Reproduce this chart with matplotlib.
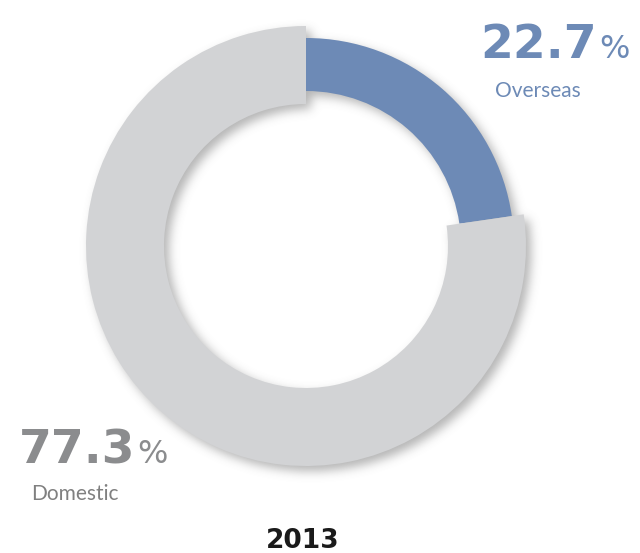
import numpy as np
import matplotlib
matplotlib.use("Agg")
import matplotlib.pyplot as plt

# Revenue split for 2013
labels = ["Overseas", "Domestic"]
shares = [22.7, 77.3]
year = "2013"

BLUE = "#6d8ab6"
GREY = "#d2d3d5"
W, H = 640, 553

fig = plt.figure(figsize=(W / 100, H / 100), dpi=100)
ax = fig.add_axes([0, 0, 1, 1])

cx, cy = 306, H - 246
# Overseas ring is slimmer than the domestic one
radii = {"Overseas": (208, 53), "Domestic": (220, 78)}
colors = {"Overseas": BLUE, "Domestic": GREY}

wedges = []
for i, lab in enumerate(labels):
    r, w = radii[lab]
    fc = [colors[l] if l == lab else "none" for l in labels]
    ws, _ = ax.pie(shares, startangle=90, counterclock=False, radius=r,
                   center=(cx, cy), colors=fc,
                   wedgeprops=dict(width=w, linewidth=0, zorder=3))
    wedges.append(ws[i])

# soft drop shadow from the ring shapes
yy, xx = np.mgrid[0:H, 0:W]
px = xx + 0.5
py = H - (yy + 0.5)
off = 5
dx = px - off - cx
dy = py + off - cy
rr = np.hypot(dx, dy)
ang = np.degrees(np.arctan2(dy, dx))
mask = np.zeros((H, W))
for wd in wedges:
    t1, t2 = wd.theta1, wd.theta2
    span = (t2 - t1) % 360
    a = (ang - t1) % 360
    inside_ang = a <= span if span != 0 else np.ones_like(a, bool)
    inside_r = (rr <= wd.r) & (rr >= wd.r - wd.width)
    mask = np.maximum(mask, (inside_ang & inside_r).astype(float))

def blur(img, sigma):
    k = np.arange(-3 * sigma, 3 * sigma + 1)
    g = np.exp(-k ** 2 / (2 * sigma ** 2))
    g /= g.sum()
    img = np.apply_along_axis(lambda m: np.convolve(m, g, mode="same"), 0, img)
    img = np.apply_along_axis(lambda m: np.convolve(m, g, mode="same"), 1, img)
    return img

sh = blur(mask, 5)
rgba = np.zeros((H, W, 4))
rgba[..., :3] = 0.42
rgba[..., 3] = sh * 0.5
ax.imshow(rgba, extent=(0, W, 0, H), origin="upper", zorder=1, interpolation="bilinear")

ax.set_xlim(0, W)
ax.set_ylim(0, H)
ax.set_aspect("equal")
ax.axis("off")

num_font = dict(family="DejaVu Sans", weight="bold")
pct_font = dict(family="DejaVu Sans", weight="normal")
lab_font = dict(family="Lato")

# Overseas label
ax.text(597, H - 58, f"{shares[0]:.1f}", color=BLUE, fontsize=34, ha="right", va="baseline", **num_font)
ax.text(599, H - 58, "%", color=BLUE, fontsize=23, ha="left", va="baseline", **pct_font)
ax.text(538, H - 97, labels[0], color=BLUE, fontsize=15, ha="center", va="baseline", **lab_font)

# Domestic label
ax.text(135, H - 463, f"{shares[1]:.1f}", color="#8b8c8e", fontsize=34, ha="right", va="baseline", **num_font)
ax.text(137, H - 463, "%", color="#8b8c8e", fontsize=23, ha="left", va="baseline", **pct_font)
ax.text(75, H - 500, labels[1], color="#808080", fontsize=15, ha="center", va="baseline", **lab_font)

ax.text(303, H - 548, year, color="#1a1a1a", fontsize=19, ha="center", va="baseline", **num_font)

fig.savefig("out.png", dpi=100)
